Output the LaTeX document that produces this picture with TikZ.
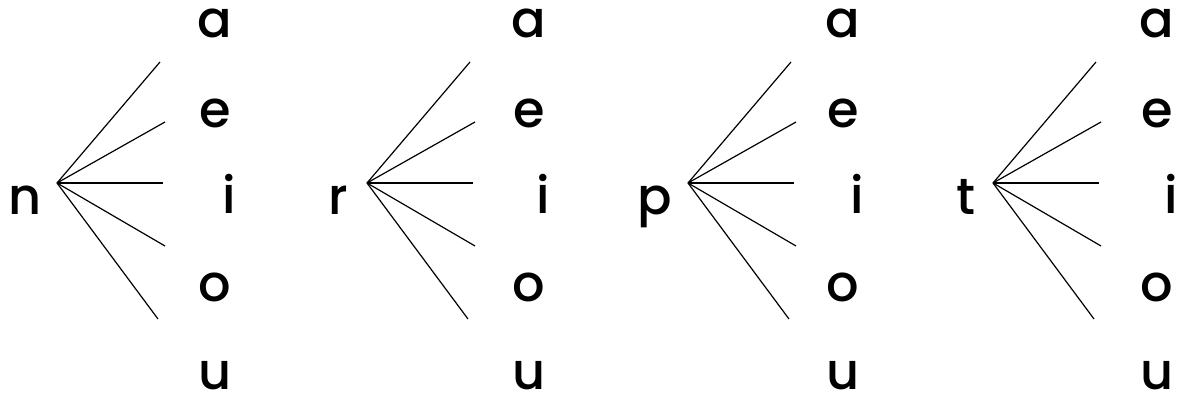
\documentclass[tikz,border=0pt]{standalone}
\usepackage{fontspec}
\setmainfont{Poppins}
\newfontfamily\letterfont{Poppins Medium}
\usepackage{tikz}
\usetikzlibrary{calc}

\begin{document}
\begin{tikzpicture}[x=1pt, y=1pt,
    letter/.style={anchor=base, inner sep=0pt,
                   font=\fontsize{51}{51}\letterfont},
    fan/.style={line width=1.2pt}
]
    \useasboundingbox (0,0) rectangle (1177,398);
    \foreach \con/\cx/\fx/\vx in {n/25/57/215, r/338/367/529,
                                  p/655/688/843, t/966/993/1157}{
        \node[letter] (c-\con) at (\cx,183) {\con};
        \coordinate (f-\con) at (\fx,215);
        \foreach \vow/\dx/\vy/\ex/\ey in {
            a/0/360/103/121,
            e/0/270/108/61,
            i/14/184/106/0,
            o/0/96/108/-63,
            u/0/8/101/-136
        }{
            \node[letter] (v-\con-\vow) at (\vx+\dx,\vy) {\vow};
            \coordinate (e-\con-\vow) at ($(f-\con)+(\ex,\ey)$);
            \draw[fan] (f-\con) -- (e-\con-\vow);
        }
    }
\end{tikzpicture}
\end{document}
